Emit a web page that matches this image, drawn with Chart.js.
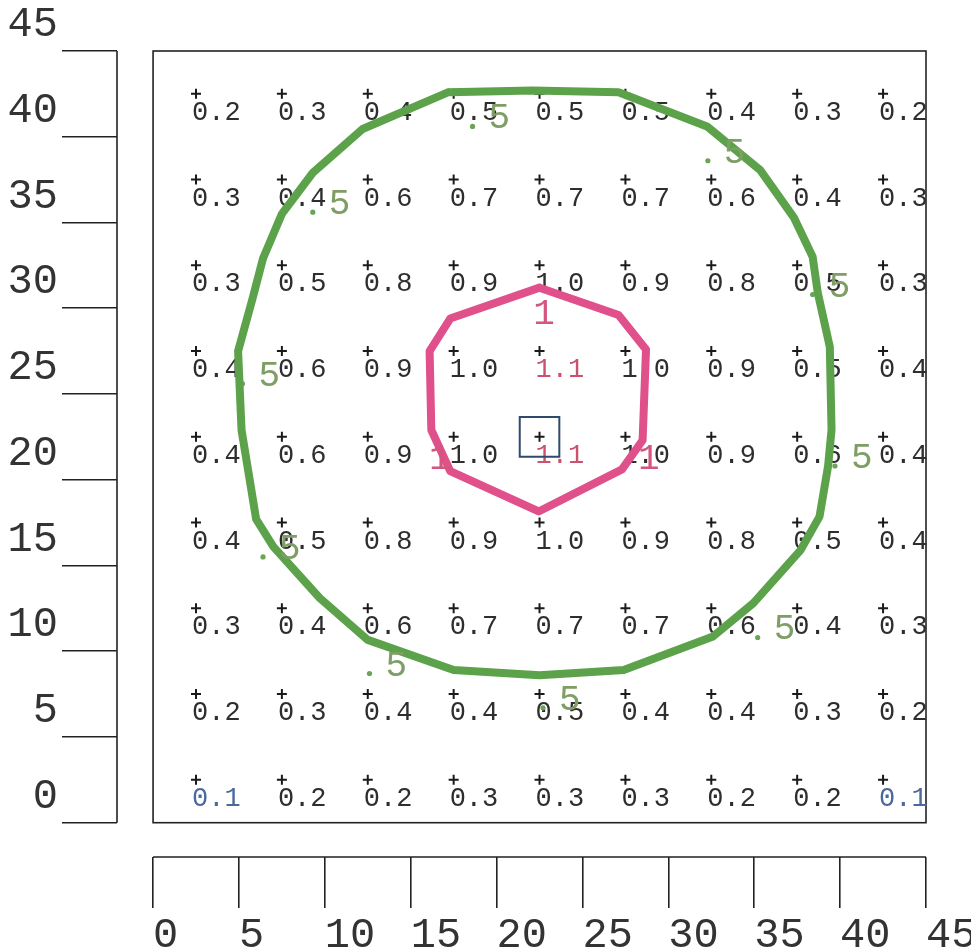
<!DOCTYPE html>
<html>
<head>
<meta charset="utf-8">
<script src="https://cdn.jsdelivr.net/npm/chart.js@4/dist/chart.umd.min.js"></script>
<style>
html,body{margin:0;padding:0;background:#fff;}
canvas{display:block;}
</style>
</head>
<body>
<canvas id="c" width="971" height="949"></canvas>
<script>
// ---- data ----
const axisTicks = [0, 5, 10, 15, 20, 25, 30, 35, 40, 45];
const gridX = [2.5, 7.5, 12.5, 17.5, 22.5, 27.5, 32.5, 37.5, 42.5];
const gridY = [42.5, 37.5, 32.5, 27.5, 22.5, 17.5, 12.5, 7.5, 2.5];
const row1 = [0.2, 0.3, 0.4, 0.5, 0.5, 0.5, 0.4, 0.3, 0.2];
const row2 = [0.3, 0.4, 0.6, 0.7, 0.7, 0.7, 0.6, 0.4, 0.3];
const row3 = [0.3, 0.5, 0.8, 0.9, 1.0, 0.9, 0.8, 0.5, 0.3];
const row4 = [0.4, 0.6, 0.9, 1.0, 1.1, 1.0, 0.9, 0.5, 0.4];
const row5 = [0.4, 0.6, 0.9, 1.0, 1.1, 1.0, 0.9, 0.6, 0.4];
const row6 = [0.4, 0.5, 0.8, 0.9, 1.0, 0.9, 0.8, 0.5, 0.4];
const row7 = [0.3, 0.4, 0.6, 0.7, 0.7, 0.7, 0.6, 0.4, 0.3];
const row8 = [0.2, 0.3, 0.4, 0.4, 0.5, 0.4, 0.4, 0.3, 0.2];
const row9 = [0.1, 0.2, 0.2, 0.3, 0.3, 0.3, 0.2, 0.2, 0.1];
const rows = [row1, row2, row3, row4, row5, row6, row7, row8, row9];

// contour 0.5 (green) vertices
const c05X = [17.2, 22.1, 27.1, 32.25, 35.35, 37.3, 38.4, 38.7, 39.4, 39.5, 39.3, 38.8, 37.7, 34.95, 32.6, 27.4, 22.5, 17.5, 12.5, 9.7, 7.0, 6.0, 5.15, 4.95, 5.8, 6.4, 7.5, 9.3, 12.2, 17.2];
const c05Y = [42.6, 42.7, 42.6, 40.6, 38.05, 35.3, 33.0, 30.9, 27.75, 22.9, 20.8, 17.85, 15.9, 12.8, 10.86, 8.9, 8.6, 8.9, 10.66, 13.1, 16.1, 17.7, 22.9, 27.5, 30.6, 32.9, 35.5, 37.9, 40.45, 42.6];
// contour 1 (pink) vertices
const c1X = [22.5, 27.1, 28.7, 28.5, 27.3, 22.45, 17.3, 16.2, 16.1, 17.3, 22.5];
const c1Y = [31.2, 29.6, 27.6, 22.3, 20.6, 18.15, 20.5, 22.9, 27.5, 29.4, 31.2];
// contour label anchors
const lab05X = [18.6, 32.3, 38.4, 39.7, 35.2, 22.7, 12.6, 6.4, 5.2, 9.3];
const lab05Y = [40.6, 38.6, 30.8, 20.8, 10.8, 6.7, 8.7, 15.5, 25.6, 35.6];
const lab05Text = ['5','5','5','5','5','5','5','5','5','5'];
const lab1X = [22.36, 16.3, 28.46];
const lab1Y = [29.1, 20.6, 20.6];
const lab1Text = ['1', '1', '1'];
// marked centre
const markX = [22.5];
const markY = [22.5];

// ---- build datasets ----
const gridPts = [];
gridY.forEach(yv => gridX.forEach(xv => gridPts.push({x: xv, y: yv})));
const zip = (xs, ys) => xs.map((v, i) => ({x: v, y: ys[i]}));

const MONO = '"Liberation Mono", "DejaVu Sans Mono", monospace';
const GREEN = '#5ca24a';
const PINK = '#e0508a';

const bgPlugin = {
  id: 'bg',
  beforeDraw(chart) {
    const c = chart.ctx;
    c.save(); c.fillStyle = '#ffffff'; c.fillRect(0, 0, chart.width, chart.height); c.restore();
  }
};

const drawPlugin = {
  id: 'draws',
  beforeDatasetsDraw(chart) {
    const {ctx} = chart; const x = chart.scales.x, y = chart.scales.y;
    ctx.save();
    // frame of the plot
    ctx.strokeStyle = '#222'; ctx.lineWidth = 1.6;
    const l = x.getPixelForValue(0), r = x.getPixelForValue(45);
    const t = y.getPixelForValue(45), b = y.getPixelForValue(0);
    ctx.strokeRect(l, t, r - l, b - t);
    // values
    ctx.font = '27px ' + MONO;
    ctx.textAlign = 'left'; ctx.textBaseline = 'alphabetic';
    rows.forEach((row, j) => row.forEach((v, i) => {
      const px = x.getPixelForValue(gridX[i]), py = y.getPixelForValue(gridY[j]);
      ctx.fillStyle = v <= 0.1 ? '#4a6a9c' : (v >= 1.1 ? '#c9536f' : '#2e2e2e');
      ctx.fillText(v.toFixed(1), px - 4, py + 26);
    }));
    ctx.restore();
  },
  afterDatasetsDraw(chart) {
    const {ctx} = chart; const x = chart.scales.x, y = chart.scales.y;
    ctx.save();
    ctx.textAlign = 'left'; ctx.textBaseline = 'alphabetic';
    ctx.font = '36px ' + MONO;
    ctx.fillStyle = '#7e9e66';
    lab05X.forEach((v, i) => {
      ctx.fillText(lab05Text[i], x.getPixelForValue(v) + 16, y.getPixelForValue(lab05Y[i]) + 2);
    });
    ctx.fillStyle = '#d4557f';
    lab1X.forEach((v, i) => {
      ctx.fillText(lab1Text[i], x.getPixelForValue(v) - 4, y.getPixelForValue(lab1Y[i]));
    });
    // separate axis lines
    ctx.strokeStyle = '#222'; ctx.lineWidth = 1.6;
    const ca = chart.chartArea;
    ctx.beginPath();
    ctx.moveTo(ca.left, y.getPixelForValue(45));
    ctx.lineTo(ca.left, y.getPixelForValue(0));
    ctx.moveTo(x.getPixelForValue(0), ca.bottom);
    ctx.lineTo(x.getPixelForValue(45), ca.bottom);
    ctx.stroke();
    ctx.restore();
  }
};

new Chart(document.getElementById('c'), {
  type: 'scatter',
  data: {
    datasets: [
      { data: zip(c1X, c1Y), showLine: true, borderColor: PINK, borderWidth: 8, pointRadius: 0, tension: 0, fill: false, borderJoinStyle: 'round' },
      { data: zip(c05X, c05Y), showLine: true, borderColor: GREEN, borderWidth: 8, pointRadius: 0, tension: 0, fill: false, borderJoinStyle: 'round' },
      { data: zip(lab05X, lab05Y), pointStyle: 'circle', pointRadius: 2.6, backgroundColor: '#6aa556', borderWidth: 0 },
      { data: gridPts, pointStyle: 'cross', pointRadius: 5, borderColor: '#1a1a1a', borderWidth: 2 },
      { data: zip(markX, markY), pointStyle: 'rect', pointRadius: 28, backgroundColor: 'rgba(0,0,0,0)', borderColor: '#2f4a6c', borderWidth: 2 }
    ]
  },
  options: {
    responsive: false,
    animation: false,
    devicePixelRatio: 1,
    layout: { padding: { top: 51, right: 45, left: 0, bottom: 0 } },
    plugins: { legend: { display: false }, tooltip: { enabled: false } },
    elements: { line: { borderCapStyle: 'round' } },
    scales: {
      x: {
        type: 'linear', position: 'bottom', min: -2.1, max: 45,
        afterBuildTicks(s) { s.ticks = axisTicks.map(v => ({value: v})); },
        ticks: { stepSize: 5, includeBounds: false, align: 'start', padding: 3, color: '#333', maxRotation: 0, autoSkip: false,
                 font: { family: MONO, size: 42 } },
        grid: { drawOnChartArea: false, drawTicks: true, tickLength: 51, color: '#222', lineWidth: 1.6 },
        border: { display: false },
        afterFit(s) { s.height = 92; s.paddingLeft = 0; s.paddingRight = 0; }
      },
      y: {
        type: 'linear', min: -2, max: 45,
        afterBuildTicks(s) { s.ticks = axisTicks.map(v => ({value: v})); },
        ticks: { stepSize: 5, includeBounds: false, padding: 4, labelOffset: -26, color: '#333', autoSkip: false,
                 font: { family: MONO, size: 42 } },
        grid: { drawOnChartArea: false, drawTicks: true, tickLength: 55, color: '#222', lineWidth: 1.6 },
        border: { display: false },
        afterFit(s) { s.width = 117; s.paddingTop = 0; s.paddingBottom = 0; }
      }
    }
  },
  plugins: [bgPlugin, drawPlugin]
});
</script>
</body>
</html>
